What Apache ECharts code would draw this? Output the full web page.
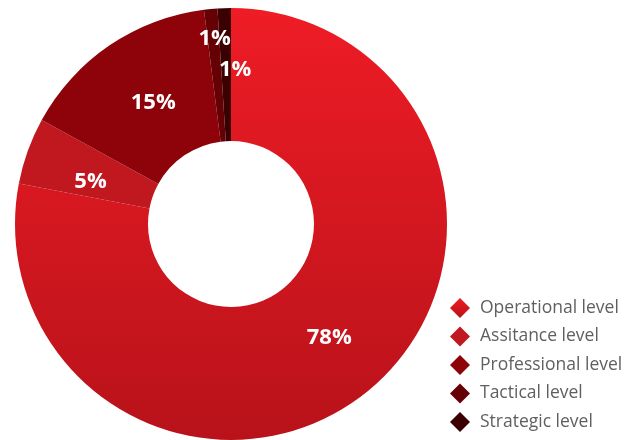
<!DOCTYPE html>
<html>
<head>
<meta charset="utf-8">
<script src="https://cdn.jsdelivr.net/npm/echarts@6/dist/echarts.min.js"></script>
<style>
  html, body { margin: 0; padding: 0; background: #fff; }
  #chart { width: 638px; height: 440px; }
</style>
</head>
<body>
<div id="chart"></div>
<script>
// Share of staff by level
const levels = ['Operational level', 'Assitance level', 'Professional level', 'Tactical level', 'Strategic level'];
const shares = [78, 5, 15, 1, 1];

// Slice colours, from bright red down to near-black maroon
const sliceColors = [
  new echarts.graphic.LinearGradient(0, 0, 0, 1, [
    { offset: 0, color: '#ee1c25' },
    { offset: 1, color: '#b8121a' }
  ]),
  '#c1171e',
  '#8e0309',
  '#650005',
  '#3a0002'
];

// Nudges for the percentage labels inside the ring
const labelShift = [[1, -4], [3, 9], [8, 5], [-2, -33], [9, -2]];

const chart = echarts.init(document.getElementById('chart'), null, { renderer: 'canvas' });
chart.setOption({
  animation: false,
  backgroundColor: '#ffffff',
  legend: {
    orient: 'vertical',
    left: 450,
    top: 298,
    padding: 0,
    icon: 'diamond',
    itemWidth: 20,
    itemHeight: 20,
    itemGap: 8.5,
    textStyle: { color: '#5f5f5f', fontSize: 17.5, fontFamily: 'Open Sans', padding: [0, 0, 0, 5] },
    data: levels
  },
  series: [{
    type: 'pie',
    center: [231, 224],
    radius: [83, 216],
    startAngle: 90,
    clockwise: true,
    avoidLabelOverlap: false,
    label: {
      show: true,
      position: 'inside',
      formatter: '{c}%',
      color: '#ffffff',
      fontSize: 22,
      fontWeight: 'bold',
      fontFamily: 'Open Sans'
    },
    labelLine: { show: false },
    labelLayout: function (p) {
      const s = labelShift[p.dataIndex];
      return { dx: s[0], dy: s[1] };
    },
    emphasis: { disabled: true },
    data: levels.map((name, i) => ({
      name: name,
      value: shares[i],
      itemStyle: { color: sliceColors[i] }
    }))
  }]
});
</script>
</body>
</html>
